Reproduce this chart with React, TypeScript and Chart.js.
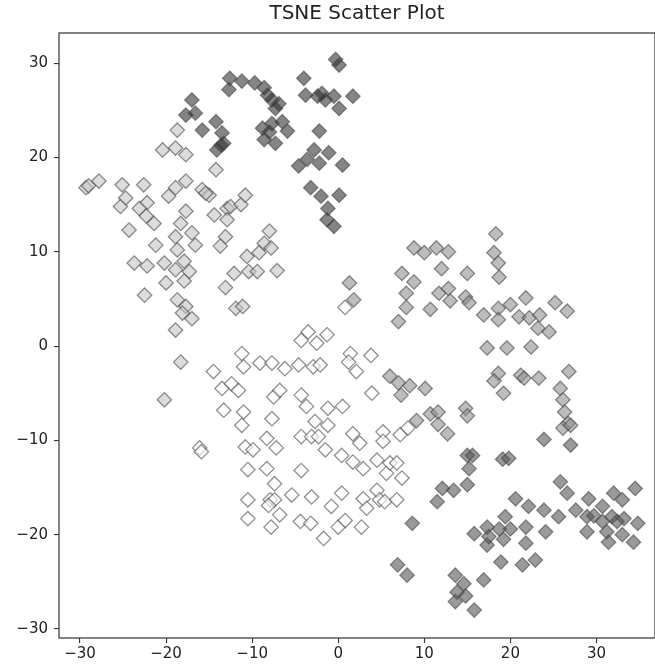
import React, { useEffect, useRef } from 'react';
import { Chart, registerables } from 'chart.js';

Chart.register(...registerables);

const TITLE = 'TSNE Scatter Plot';
const X_MIN = -32.44;
const X_MAX = 36.8;
const Y_MIN = -30.96;
const Y_MAX = 33.2;
const TICK_STEP = 10;

// cluster 0: darkest (top)
const clusterTop: [number, number][] = [
  [-0.3, 30.4], [0.1, 29.8],
  [-12.6, 28.4], [-12.7, 27.2], [-11.2, 28.1], [-9.7, 27.9], [-8.6, 27.4], [-8.2, 26.6], [-7.7, 26.1], [-6.9, 25.7], [-7.3, 25.2],
  [-4.0, 28.4], [-3.8, 26.6], [-2.4, 26.5], [-1.9, 26.8], [-1.5, 26.1], [-0.5, 26.5], [0.1, 25.2], [1.7, 26.5],
  [-17.0, 26.1], [-17.7, 24.5], [-16.6, 24.7], [-15.8, 22.9], [-14.2, 23.8], [-13.5, 22.6], [-13.3, 21.5], [-14.1, 20.8], [-13.6, 21.3],
  [-8.8, 23.1], [-7.7, 23.6], [-6.5, 23.8], [-5.9, 22.8], [-8.6, 21.9], [-7.3, 21.5], [-8.0, 22.7],
  [-2.2, 22.8], [-4.6, 19.1], [-3.6, 19.8], [-2.8, 20.8], [-2.2, 19.4], [-1.1, 20.5], [0.5, 19.2],
  [-3.2, 16.8], [-2.0, 15.9], [0.1, 16.0], [-1.2, 14.6], [-1.3, 13.4], [-0.5, 12.7],
];

// cluster 1: dark (bottom right)
const clusterBottomRight: [number, number][] = [
  [23.9, -9.9], [27.0, -10.5],
  [15.0, -11.6], [15.6, -11.6], [15.2, -13.0], [15.0, -14.7], [13.4, -15.3], [12.1, -15.1], [11.5, -16.5],
  [19.1, -12.0], [19.8, -11.9],
  [8.6, -18.8], [6.9, -23.2], [8.0, -24.3],
  [25.8, -14.4], [26.6, -15.6], [34.5, -15.1],
  [20.6, -16.2], [22.1, -17.0], [23.9, -17.4], [25.6, -18.1], [19.4, -18.1],
  [15.8, -19.9], [17.3, -19.2], [17.3, -21.1], [17.5, -20.2], [18.7, -19.4], [19.2, -20.5], [20.0, -19.4], [21.8, -19.2], [21.8, -20.9], [24.1, -19.7],
  [18.9, -22.9], [21.4, -23.2], [22.9, -22.7],
  [13.6, -24.3], [14.6, -25.2], [13.8, -26.1], [14.8, -26.5], [13.6, -27.1], [15.8, -28.0], [16.9, -24.8],
  [27.6, -17.4], [28.9, -18.1], [29.1, -16.2], [28.9, -19.7], [30.7, -17.0], [30.7, -18.6], [32.0, -15.6], [33.0, -16.3],
  [31.8, -18.1], [32.4, -18.6], [33.2, -18.3], [31.2, -19.7], [31.4, -20.8], [33.0, -20.0], [34.3, -20.8], [34.8, -18.8], [29.7, -18.0],
];

// cluster 2: medium (right middle)
const clusterRight: [number, number][] = [
  [18.3, 11.9],
  [8.8, 10.4], [10.0, 9.9], [11.4, 10.4], [12.8, 10.0],
  [18.1, 9.9], [18.6, 8.8], [18.7, 7.3],
  [12.0, 8.2], [7.4, 7.7], [8.8, 6.8], [15.0, 7.7],
  [7.9, 5.6], [7.9, 4.1], [7.0, 2.6], [10.7, 3.9],
  [11.7, 5.6], [12.8, 6.1], [13.0, 4.8],
  [14.8, 5.2], [15.2, 4.6],
  [16.9, 3.3], [18.6, 4.0], [18.6, 2.8], [20.0, 4.4], [21.8, 5.1],
  [21.0, 3.1], [22.2, 3.0], [23.4, 3.3], [23.2, 1.9], [24.5, 1.5], [25.2, 4.6], [26.6, 3.7],
  [1.3, 6.7], [1.8, 4.9],
  [17.3, -0.2], [19.6, -0.2], [22.4, -0.1],
  [26.8, -2.7], [18.6, -2.9], [18.1, -3.7], [19.2, -5.0], [21.2, -3.1], [21.6, -3.4], [23.3, -3.4],
  [25.8, -4.5], [26.1, -5.7], [26.3, -7.0], [26.7, -8.2], [26.1, -8.7], [27.0, -8.4],
  [6.0, -3.2], [7.0, -3.9], [7.3, -5.2], [8.3, -4.2], [10.1, -4.5],
  [9.1, -7.9], [10.7, -7.2], [11.6, -7.0], [11.6, -8.3], [12.7, -9.3],
  [14.8, -6.6], [15.0, -7.4],
];

// cluster 3: light (left)
const clusterLeft: [number, number][] = [
  [-18.7, 22.9], [-20.4, 20.8], [-18.9, 21.0], [-17.7, 20.3], [-14.2, 18.7],
  [-29.3, 16.8], [-29.0, 17.0], [-27.8, 17.5],
  [-25.1, 17.1], [-24.7, 15.7], [-25.3, 14.8], [-22.6, 17.1], [-22.2, 15.2], [-23.1, 14.6], [-22.3, 13.8], [-21.4, 13.0], [-24.3, 12.3],
  [-19.7, 15.9], [-18.9, 16.8], [-17.7, 17.5], [-15.8, 16.6], [-15.0, 16.0], [-15.4, 16.2],
  [-17.7, 14.3], [-18.3, 13.0], [-17.0, 12.0], [-18.9, 11.6], [-21.2, 10.7], [-18.7, 10.2], [-16.6, 10.7],
  [-23.7, 8.8], [-22.2, 8.5], [-20.2, 8.8], [-18.9, 8.1], [-17.9, 9.0], [-17.3, 7.9], [-20.0, 6.7], [-17.9, 6.9],
  [-22.5, 5.4], [-18.7, 4.9], [-17.7, 4.2], [-18.1, 3.5], [-17.0, 2.9], [-18.9, 1.7], [-18.3, -1.7], [-20.2, -5.7],
  [-14.4, 13.9], [-12.9, 14.6], [-12.5, 14.8], [-12.9, 13.4], [-11.3, 15.0], [-10.8, 16.0], [-13.1, 11.6], [-13.7, 10.6],
  [-8.0, 12.2], [-8.6, 10.9], [-7.8, 10.4], [-9.2, 9.9], [-10.6, 9.5], [-12.1, 7.7], [-10.4, 7.9], [-9.4, 7.9], [-7.1, 8.0],
  [-13.1, 6.2], [-11.9, 4.0], [-11.1, 4.2],
];

// cluster 4: white (center)
const clusterCenter: [number, number][] = [
  [0.8, 4.1],
  [-3.5, 1.5], [-4.3, 0.6], [-2.5, 0.3], [-1.3, 1.2],
  [-11.2, -0.8], [-11.0, -2.2], [-9.1, -1.8], [-7.7, -1.8], [-6.2, -2.4], [-4.6, -2.0], [-2.9, -2.2], [-2.1, -2.0],
  [1.4, -0.8], [1.2, -1.7], [2.1, -2.7], [3.8, -1.0], [3.9, -5.0],
  [-14.5, -2.7], [-13.5, -4.5], [-12.4, -4.0], [-11.6, -4.7],
  [-13.3, -6.8], [-11.0, -7.0], [-11.2, -8.4],
  [-7.5, -5.4], [-6.8, -4.7], [-7.7, -7.7],
  [-4.3, -5.2], [-3.7, -6.4], [-2.7, -8.0],
  [-1.2, -6.6], [-1.2, -8.4], [0.5, -6.4],
  [-4.3, -9.6], [-3.1, -9.6], [-2.3, -9.6], [-1.5, -11.0], [0.4, -11.6],
  [1.7, -9.3], [2.5, -10.3], [1.7, -12.3], [2.9, -13.0],
  [5.2, -9.1], [5.2, -10.1], [7.2, -9.4], [8.1, -8.7],
  [4.5, -12.1], [5.6, -13.5], [6.0, -12.4], [6.8, -12.4], [7.4, -14.0],
  [-16.1, -10.8], [-15.9, -11.2],
  [-10.8, -10.7], [-9.9, -11.0], [-8.3, -9.8], [-7.2, -10.8],
  [-10.5, -13.1], [-8.3, -13.0], [-4.3, -13.2], [-7.4, -14.6],
  [-10.5, -16.3], [-7.9, -16.3], [-7.4, -16.3], [-5.4, -15.8], [-8.1, -16.9],
  [-10.5, -18.3], [-6.8, -17.9], [-7.8, -19.2], [-3.1, -16.0], [-4.4, -18.6], [-3.2, -18.8], [-1.7, -20.4],
  [-0.8, -17.0], [0.4, -15.6], [0.0, -19.2], [0.8, -18.5],
  [2.9, -16.2], [3.3, -17.2], [4.5, -15.3], [4.8, -16.3], [5.4, -16.5], [6.8, -16.3], [2.7, -19.2],
];

const SERIES = [clusterTop, clusterBottomRight, clusterRight, clusterLeft, clusterCenter];
const FILLS = [
  'rgba(52,52,52,0.6)',
  'rgba(87,87,87,0.6)',
  'rgba(145,145,145,0.6)',
  'rgba(197,197,197,0.6)',
  'rgba(255,255,255,0.6)',
];
const EDGE = 'rgba(70,70,70,0.6)';

const fmt = (v: number | string) => {
  const n = Number(v);
  return n < 0 ? '\u2212' + Math.abs(n) : String(n);
};

const framePlugin = {
  id: 'frame',
  afterDatasetsDraw(chart: any) {
    const { ctx, chartArea: a } = chart;
    ctx.save();
    ctx.strokeStyle = '#3a3a3a';
    ctx.lineWidth = 1.25;
    ctx.strokeRect(a.left, a.top, a.right - a.left, a.bottom - a.top);
    ctx.restore();
  },
};

export default function App() {
  const ref = useRef<HTMLCanvasElement | null>(null);
  useEffect(() => {
    if (!ref.current) return;
    const tickFont = { family: 'DejaVu Sans', size: 15 };
    const chart = new Chart(ref.current, {
      type: 'scatter',
      data: {
        datasets: SERIES.map((pts, i) => ({
          label: 'cluster ' + i,
          data: pts.map(([x, y]) => ({ x, y })),
          pointStyle: 'rectRot',
          pointRadius: 7.2,
          pointHoverRadius: 7.2,
          backgroundColor: FILLS[i],
          borderColor: EDGE,
          borderWidth: 1.3,
        })),
      },
      options: {
        responsive: false,
        devicePixelRatio: 1,
        animation: false,
        layout: { padding: 0, autoPadding: false },
        plugins: {
          legend: { display: false },
          tooltip: { enabled: false },
          title: {
            display: true,
            text: TITLE,
            fullSize: false,
            color: '#222',
            font: { family: 'DejaVu Sans', size: 20, weight: 'normal', lineHeight: 1.2 },
            padding: { top: 2, bottom: 7 },
          },
        },
        scales: {
          x: {
            type: 'linear',
            min: X_MIN,
            max: X_MAX,
            afterFit: (s: any) => { s.height = 31; },
            border: { display: false },
            grid: { display: true, drawOnChartArea: false, drawTicks: true, tickLength: 5, color: '#333', lineWidth: 1.1 },
            ticks: { stepSize: TICK_STEP, includeBounds: false, color: '#222', font: tickFont, padding: 2, maxRotation: 0, callback: fmt },
          },
          y: {
            type: 'linear',
            min: Y_MIN,
            max: Y_MAX,
            afterFit: (s: any) => { s.width = 59; },
            border: { display: false },
            grid: { display: true, drawOnChartArea: false, drawTicks: true, tickLength: 5, color: '#333', lineWidth: 1.1 },
            ticks: { stepSize: TICK_STEP, includeBounds: false, color: '#222', font: tickFont, padding: 6, callback: fmt },
          },
        },
      },
      plugins: [framePlugin],
    } as any);
    return () => chart.destroy();
  }, []);
  return (
    <div style={{ position: 'fixed', left: 0, top: 0, width: 655, height: 669, background: '#fff' }}>
      <canvas ref={ref} width={655} height={669} style={{ display: 'block' }} />
    </div>
  );
}
